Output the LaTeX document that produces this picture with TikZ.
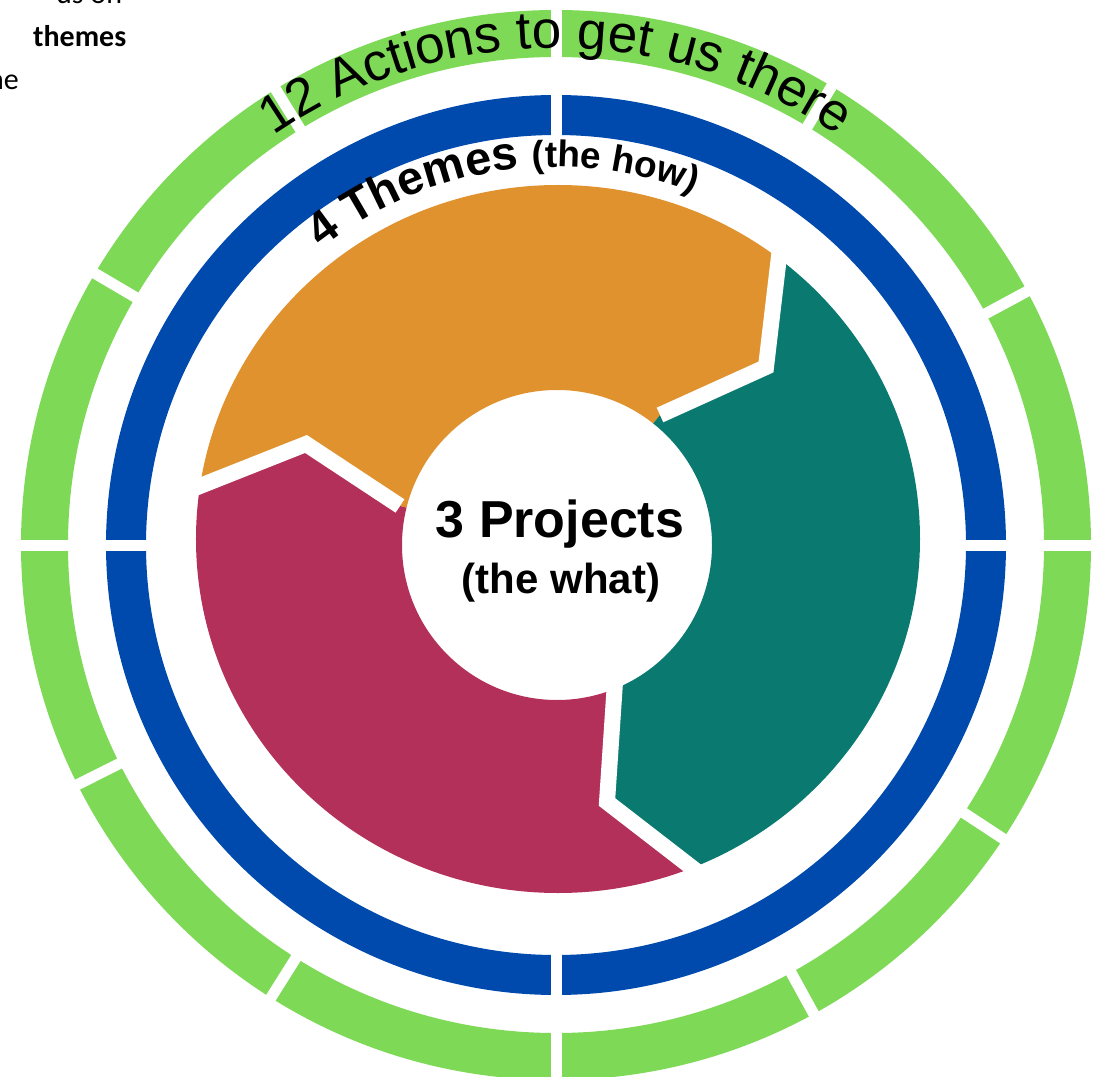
\documentclass[tikz,border=0pt]{standalone}
\usepackage{fontspec}
\setmainfont{Liberation Sans}
\newfontfamily\carlito{Carlito}
\usetikzlibrary{decorations.text,calc}
\definecolor{ringgreen}{HTML}{7ED957}
\definecolor{ringblue}{HTML}{004AAD}
\definecolor{segorange}{HTML}{E0922E}
\definecolor{segteal}{HTML}{0A7A70}
\definecolor{segcrimson}{HTML}{B3305A}
\tikzset{
  gapline/.style={white, line width=11},
  seggap/.style={white, line width=16, line join=miter},
  sidetext/.style={anchor=base west, inner sep=0pt, font=\carlito\fontsize{30}{30}\selectfont}
}
\begin{document}
\begin{tikzpicture}[x=1pt,y=1pt]
\useasboundingbox (-556,-531) rectangle (538,545);
\begin{scope}
\clip (-556,-531) rectangle (538,545);
% outer green ring: 12 actions
\fill[ringgreen, even odd rule] (0,0) circle[radius=535] (0,0) circle[radius=488];
\foreach \a in {0,28.3,59,90,121.6,149.5,180,206.6,237.8,270,298.8,326.7}
  \draw[gapline] (\a:480) -- (\a:545);
% blue ring: 4 themes
\fill[ringblue, even odd rule] (0,0) circle[radius=450] (0,0) circle[radius=410];
\foreach \a in {0,90,180,270}
  \draw[gapline] (\a:400) -- (\a:460);
% segment boundaries
\coordinate (o1) at (224,297); \coordinate (a1) at (210,178); \coordinate (i1) at (104,130);
\coordinate (o2) at (139,-325); \coordinate (a2) at (51,-257); \coordinate (i2) at (59,-137);
\coordinate (o3) at (-356,59); \coordinate (a3) at (-250,101); \coordinate (i3) at (-156,39);
\begin{scope}
\clip (0,0) -- (i3) -- (a3) -- (o3) -- (170:700) -- (110:700) -- (53:700) -- (o1) -- (a1) -- (i1) -- cycle;
\fill[segorange, even odd rule] (2,6) ellipse[x radius=362, y radius=354] (1,0) circle[radius=155];
\end{scope}
\begin{scope}
\clip (0,0) -- (i1) -- (a1) -- (o1) -- (53:700) -- (0:700) -- (-67:700) -- (o2) -- (a2) -- (i2) -- cycle;
\fill[segteal, even odd rule] (2,6) ellipse[x radius=362, y radius=354] (1,0) circle[radius=155];
\end{scope}
\begin{scope}
\clip (0,0) -- (i2) -- (a2) -- (o2) -- (-67:700) -- (-130:700) -- (-190:700) -- (o3) -- (a3) -- (i3) -- cycle;
\fill[segcrimson, even odd rule] (2,6) ellipse[x radius=362, y radius=354] (1,0) circle[radius=155];
\end{scope}
\draw[seggap] ($(a1)!1.2!(o1)$) -- (a1) -- (i1);
\draw[seggap] ($(a2)!1.2!(o2)$) -- (a2) -- (i2);
\draw[seggap] ($(a3)!1.2!(o3)$) -- (a3) -- (i3);
% curved titles
\path[decorate, decoration={text along path, text align=center,
  text={|\fontsize{53}{53}\selectfont|12 Actions to get us there}}]
  (150:497) arc[start angle=150, end angle=30, radius=497];
\path[decorate, decoration={text along path, text align=center,
  text={|\bfseries\fontsize{47}{47}\selectfont|4 Themes |\bfseries\fontsize{37}{37}\selectfont|(the how)}}]
  (159.5:378) arc[start angle=159.5, end angle=37.5, radius=378];
% centre text
\node[font=\bfseries\fontsize{52}{52}\selectfont, anchor=base, inner sep=0pt] (proj) at (4,8) {3 Projects};
\node[font=\bfseries\fontsize{42}{42}\selectfont, anchor=base, inner sep=0pt] (what) at (5,-48) {(the what)};
% cut-off side text
\node[sidetext] (tl1) at (-500,541) {us on};
\node[sidetext, font=\carlito\bfseries\fontsize{30}{30}\selectfont] (tl2) at (-523,498) {themes};
\node[sidetext] (tl3) at (-568,455) {he};
\end{scope}
\end{tikzpicture}
\end{document}
